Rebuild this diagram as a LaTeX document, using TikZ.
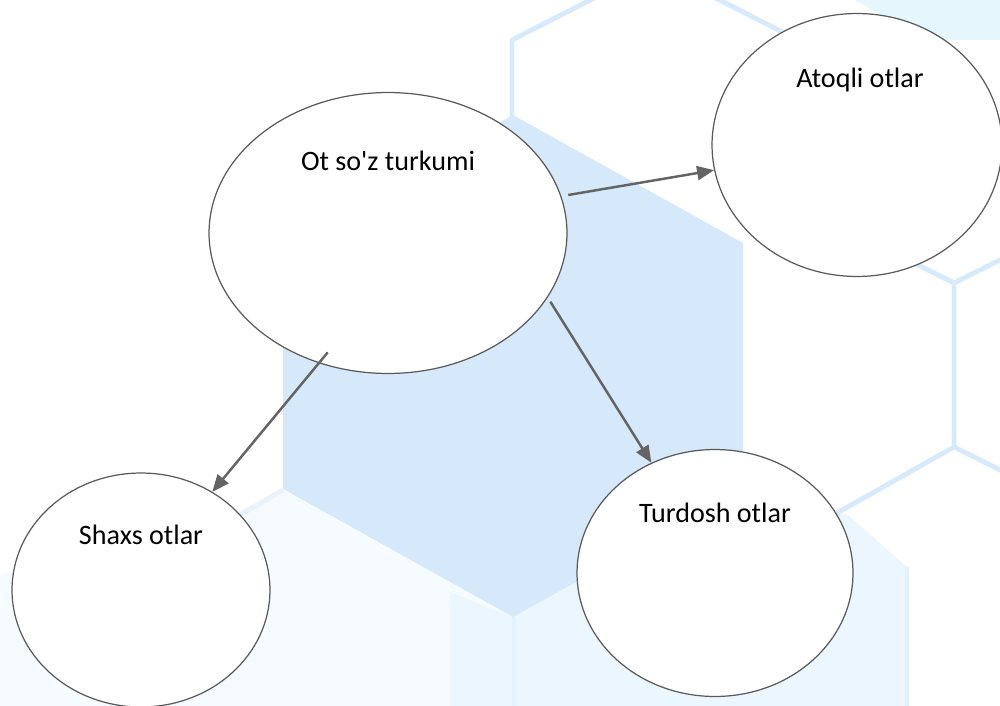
\documentclass[tikz,border=0pt]{standalone}
\usepackage{fontspec}
\newfontfamily\bubblefont{Carlito}
\usetikzlibrary{shapes.geometric, arrows.meta, positioning, calc}
\definecolor{hexblue}{RGB}{213, 233, 251}
\definecolor{hexline}{RGB}{215, 234, 252}
\definecolor{hexpale}{RGB}{246, 251, 255}
\definecolor{hexmist}{RGB}{236, 246, 254}
\definecolor{hexcyan}{RGB}{229, 246, 253}
\definecolor{rimgray}{RGB}{90, 90, 90}
\definecolor{arrowgray}{RGB}{100, 100, 100}

\begin{document}
\begin{tikzpicture}[x=0.02cm, y=-0.02cm,
    bubble/.style={ellipse, draw=rimgray, line width=0.7pt, fill=white, inner sep=0pt},
    bubbletext/.style={font=\bubblefont\fontsize{16}{19}\selectfont, anchor=base},
    hexedge/.style={draw=hexline, line width=2.8pt, line join=round},
    link/.style={draw=arrowgray, line width=1.4pt, -{Triangle[length=0.34cm, width=0.28cm]}}]
\useasboundingbox (0,0) rectangle (1000,706);

% Background - honeycomb
\begin{scope}
\clip (0,0) rectangle (1000,706);
\fill[hexpale] (0,706) -- (0,575) -- (243,513) -- (283,490) -- (512,617) -- (512,706) -- cycle;
\fill[hexmist] (450,592) -- (512,617) -- (512,706) -- (450,706) -- cycle;
\fill[hexmist] (512,617) -- (743,489) -- (848,515) -- (907,567) -- (907,706) -- (512,706) -- cycle;
\fill[hexcyan] (855,0) -- (1000,0) -- (1000,40) -- (925,40) -- cycle;
\fill[hexblue] (513,115) -- (743,243) -- (743,489) -- (513,617) -- (283,489) -- (283,243) -- cycle;

\draw[hexedge] (512,117) -- (512,40) -- (655,-33) -- (798,40) -- (798,117);
\draw[hexedge] (848,230) -- (954,283) -- (954,447) -- (837,513);
\draw[hexedge] (954,283) -- (1060,230);
\draw[hexedge] (954,447) -- (1060,500);
\draw[hexedge, hexline!60] (283,490) -- (100,595);
\draw[hexedge, hexline!70] (514,617) -- (514,706);
\draw[hexedge, hexline!70] (907,567) -- (907,706);
\end{scope}

% Bubbles
\node[bubble, minimum width=7.16cm, minimum height=5.62cm] (ot) at (388,233) {};
\node[bubble, minimum width=5.8cm, minimum height=5.26cm] (atoqli) at (857,145) {};
\node[bubble, minimum width=5.16cm, minimum height=4.68cm] (shaxs) at (141,590) {};
\node[bubble, minimum width=5.52cm, minimum height=4.94cm] (turdosh) at (715,573) {};

\node[bubbletext] (ot-text) at (388,170) {Ot so'z turkumi};
\node[bubbletext] (atoqli-text) at (860,88) {Atoqli otlar};
\node[bubbletext] (shaxs-text) at (141,544) {Shaxs otlar};
\node[bubbletext] (turdosh-text) at (715,522) {Turdosh otlar};

% Arrows
\draw[link, shorten <=0.14cm] (ot.12) -- (atoqli.190);
\draw[link, shorten <=-0.28cm] (ot.242) -- (shaxs.54);
\draw[link, shorten <=0.1cm] (ot.-22) -- (turdosh.120);
\end{tikzpicture}
\end{document}
